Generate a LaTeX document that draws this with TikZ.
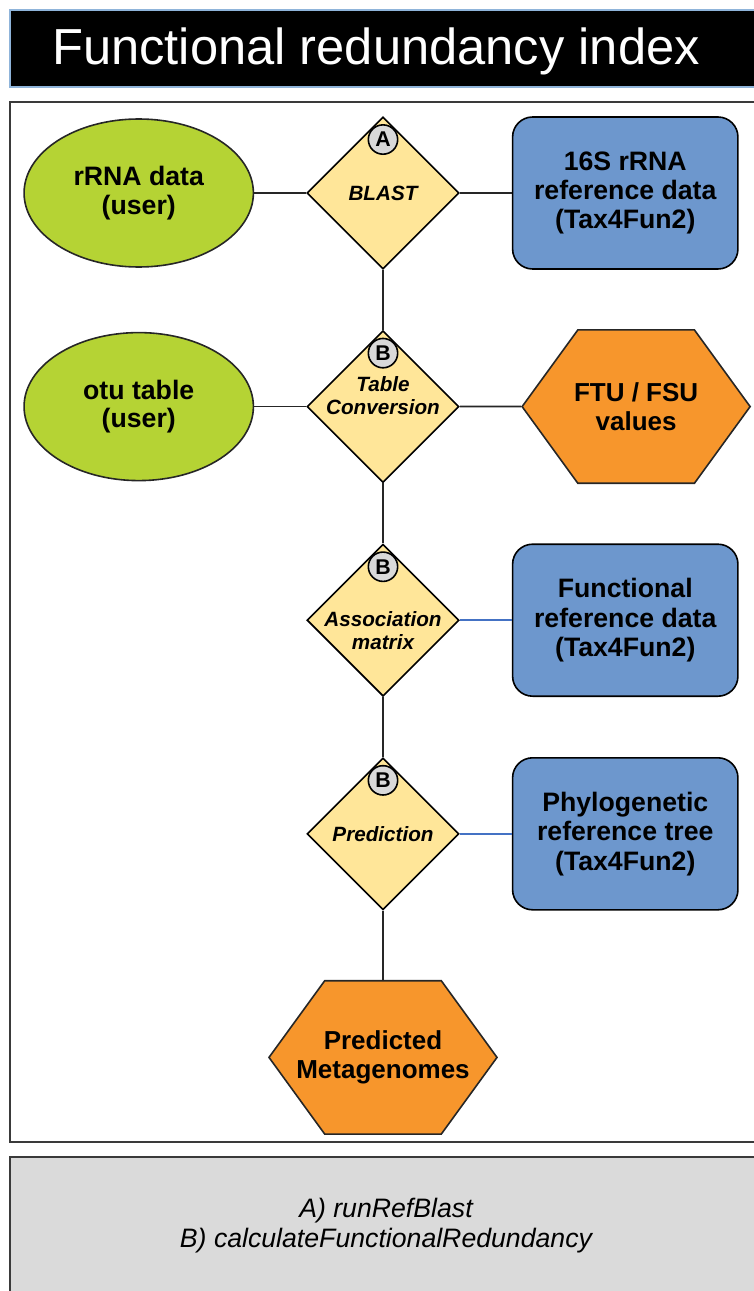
\documentclass[tikz,border=0pt]{standalone}
\usepackage{fontspec}
\setmainfont{Liberation Sans}
\usepackage{xcolor}
\usepackage{tikz}
\usetikzlibrary{shapes.geometric, shapes.symbols, positioning}
\definecolor{inputgreen}{HTML}{B5D334}
\definecolor{stepyellow}{HTML}{FFE699}
\definecolor{refblue}{HTML}{6D97CD}
\definecolor{outorange}{HTML}{F7962C}
\definecolor{badgegray}{HTML}{D9D9D9}
\definecolor{panelgray}{HTML}{DADADA}
\definecolor{linkblue}{HTML}{4472C4}
\definecolor{framegray}{HTML}{3A3A3A}
\definecolor{titleedge}{HTML}{8FB4DA}
\newcommand{\hexrow}[1]{\makebox[0pt]{#1}}
\tikzset{
    userdata/.style={ellipse, draw=black!85, fill=inputgreen, line width=1.2pt, minimum width=172pt, minimum height=111pt, align=center, font=\fontsize{20}{21.5}\selectfont\bfseries},
    fnstep/.style={diamond, draw=black, fill=stepyellow, line width=1.2pt, aspect=1, minimum width=114pt, minimum height=114pt, inner sep=0pt},
    steptext/.style={align=center, inner sep=0pt, font=\fontsize{15.5}{17.5}\selectfont\bfseries\itshape},
    refdata/.style={rectangle, rounded corners=15pt, draw=black, fill=refblue, line width=1.2pt, minimum width=169pt, minimum height=114pt, align=center, font=\fontsize{20}{22}\selectfont\bfseries},
    result/.style={signal, signal to=west and east, signal pointer angle=108, draw=black!85, fill=outorange, line width=1.2pt, minimum width=171pt, minimum height=115pt, inner sep=0pt, align=center, font=\fontsize{19.5}{22}\selectfont\bfseries},
    badge/.style={circle, draw=black, fill=badgegray, line width=1.2pt, minimum size=22pt, inner sep=0pt, font=\fontsize{16}{16}\selectfont\bfseries},
    link/.style={line width=1.3pt, color=black!85},
    reflink/.style={line width=1.1pt, color=linkblue}
}

\begin{document}
\begin{tikzpicture}[x=0.75pt, y=-0.75pt]
    \useasboundingbox (0,0) rectangle (753,1291);

    % frames
    \draw [fill=black, draw=titleedge, line width=1.2pt] (10,10) rectangle (780,87);
    \node [text=white, font=\fontsize{38}{40}\selectfont] (title) at (376,51) {Functional redundancy index};
    \draw [framegray, line width=1.5pt] (10,102) rectangle (780,1142);
    \draw [framegray, fill=panelgray, line width=1.5pt] (10,1157) rectangle (780,1320);
    \node [align=center, font=\fontsize{20}{22.5}\selectfont\itshape] (legend) at (386,1226) {A) runRefBlast\\B) calculateFunctionalRedundancy};

    % main column
    \node [fnstep] (blast) at (383,193) {};
    \node [fnstep, below=45pt of blast] (tabconv) {};
    \node [fnstep, below=45pt of tabconv] (assoc) {};
    \node [fnstep, below=45pt of assoc] (predict) {};
    \node [result, below=52pt of predict] (metagen) {\hexrow{Predicted}\\\hexrow{Metagenomes}};

    \node [steptext] at (blast) {BLAST};
    \node [steptext] at ([yshift=8pt]tabconv.center) {Table\\Conversion};
    \node [steptext] at ([yshift=-8pt]assoc.center) {Association\\matrix};
    \node [steptext] at (predict) {Prediction};

    \node [badge] (badgeA) at ([yshift=-17.5pt]blast.north) {A};
    \node [badge] (badgeB1) at ([yshift=-17.5pt]tabconv.north) {B};
    \node [badge] (badgeB2) at ([yshift=-17.5pt]assoc.north) {B};
    \node [badge] (badgeB3) at ([yshift=-17.5pt]predict.north) {B};

    % inputs and references
    \node [userdata, left=39pt of blast] (rrna) {rRNA data\\(user)};
    \node [userdata, left=39pt of tabconv] (otu) {otu table\\(user)};
    \node [refdata, right=39pt of blast] (ref16s) {16S rRNA\\reference data\\(Tax4Fun2)};
    \node [result, right=46pt of tabconv] (ftu) {\hexrow{FTU / FSU}\\\hexrow{values}};
    \node [refdata, right=39pt of assoc] (funcref) {Functional\\reference data\\(Tax4Fun2)};
    \node [refdata, right=39pt of predict] (phyloref) {Phylogenetic\\reference tree\\(Tax4Fun2)};

    \draw [link] (rrna) -- (blast);
    \draw [link] (blast) -- (ref16s);
    \draw [link] (blast) -- (tabconv);
    \draw [link] (otu) -- (tabconv);
    \draw [link] (tabconv) -- (ftu);
    \draw [link] (tabconv) -- (assoc);
    \draw [reflink] (assoc) -- (funcref);
    \draw [link] (assoc) -- (predict);
    \draw [reflink] (predict) -- (phyloref);
    \draw [link] (predict) -- (metagen);
\end{tikzpicture}
\end{document}
